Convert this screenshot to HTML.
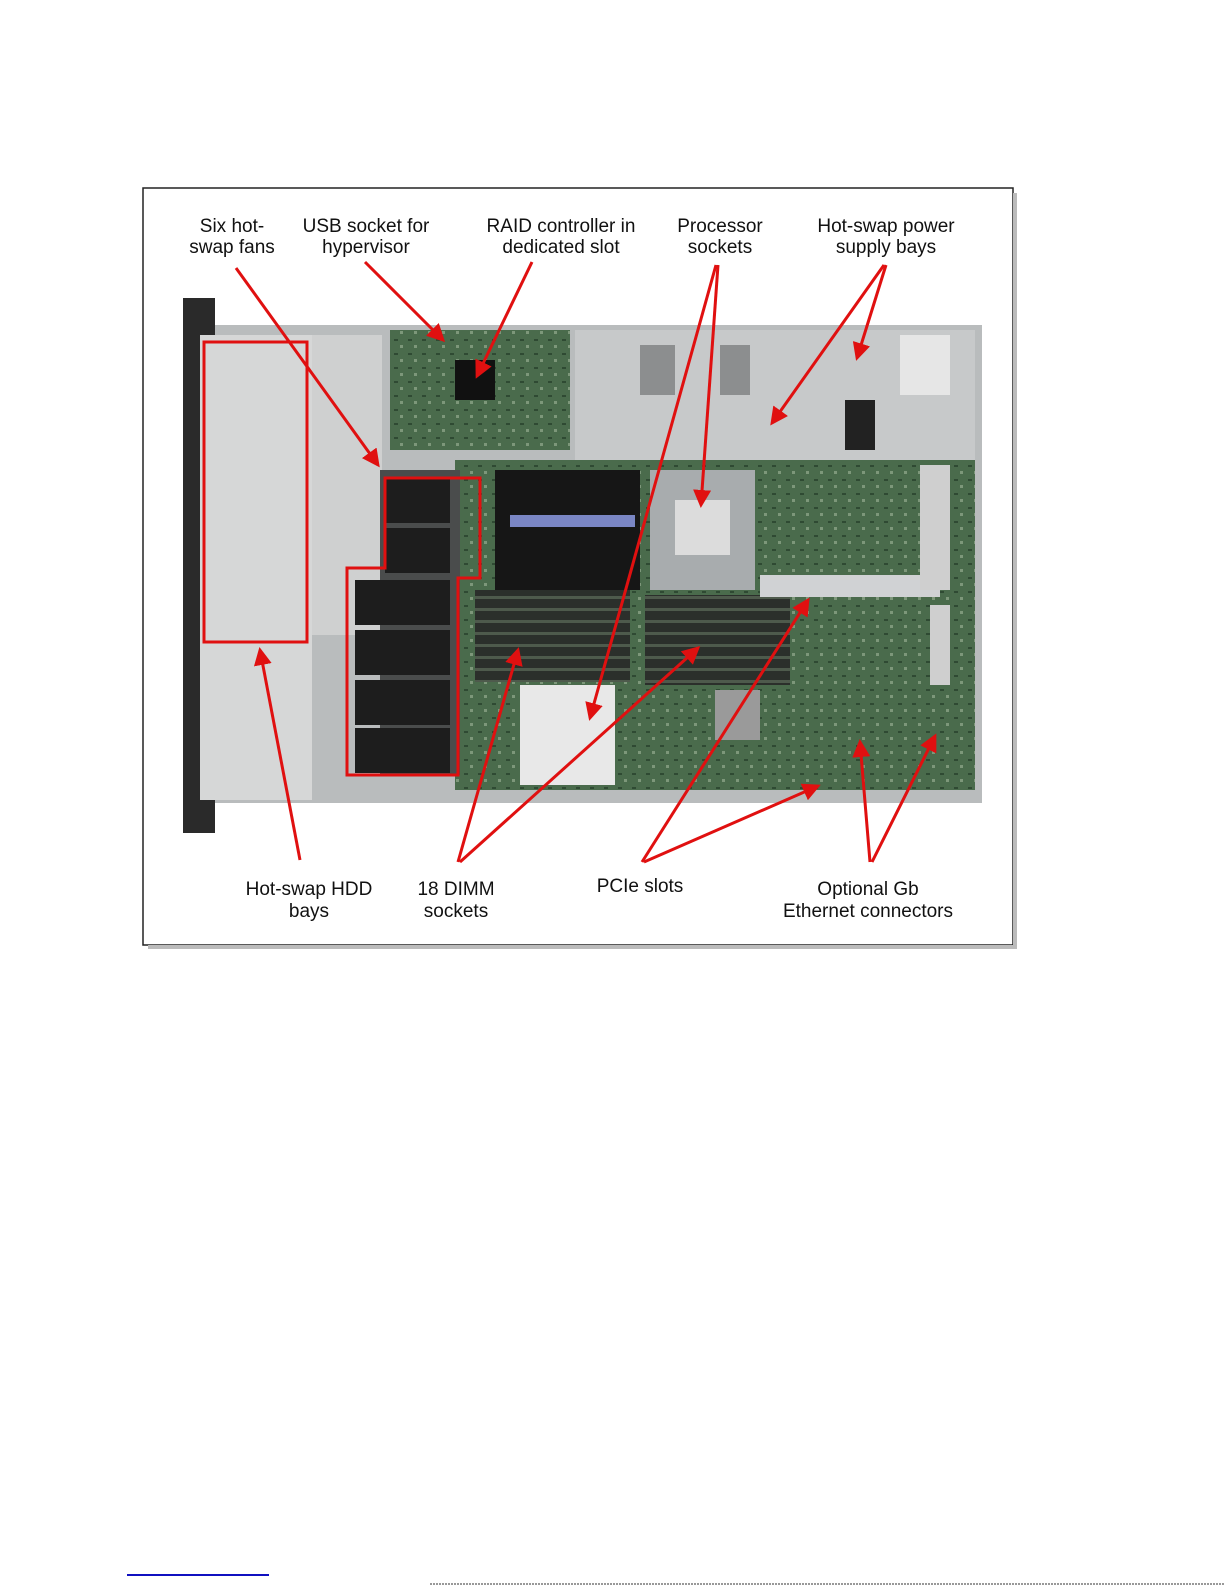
<!DOCTYPE html>
<html><head><meta charset="utf-8"><style>
html,body{margin:0;padding:0;background:#fff;}
svg{display:block}
text{font-family:"Liberation Sans",Arial,sans-serif;font-size:19px;fill:#111;text-anchor:middle}
</style></head><body>
<svg width="1225" height="1585" viewBox="0 0 1225 1585" xmlns="http://www.w3.org/2000/svg">
<defs>
<marker id="ah" markerWidth="6" markerHeight="6" refX="5" refY="3" orient="auto" markerUnits="strokeWidth"><path d="M0,0 L6,3 L0,6 z" fill="#e01010"/></marker>
<pattern id="pcb" width="14" height="14" patternUnits="userSpaceOnUse"><rect width="14" height="14" fill="#4a6b4c"/><rect x="2" y="3" width="4" height="2" fill="#2f4a33"/><rect x="8" y="9" width="3" height="3" fill="#7d977a"/></pattern>
<pattern id="dimm" width="10" height="12" patternUnits="userSpaceOnUse"><rect width="10" height="12" fill="#2b2f2b"/><rect y="8" width="10" height="3" fill="#4e5a4c"/></pattern>
</defs>
<rect x="143" y="188" width="870" height="757" fill="#fff" stroke="#222" stroke-width="1.5"/>
<rect x="1013" y="193" width="4" height="756" fill="#bbb"/>
<rect x="148" y="945" width="869" height="4" fill="#bbb"/>
<rect x="212" y="325" width="770" height="478" fill="#b9bcbd"/>
<rect x="183" y="298" width="32" height="535" fill="#2a2a2a"/>
<rect x="200" y="335" width="112" height="465" fill="#d6d7d7"/>
<rect x="312" y="335" width="70" height="300" fill="#cfd0d0"/>
<rect x="575" y="330" width="400" height="130" fill="#c7c9ca"/>
<rect x="640" y="345" width="35" height="50" fill="#8c8e8f"/>
<rect x="720" y="345" width="30" height="50" fill="#8c8e8f"/>
<rect x="845" y="400" width="30" height="50" fill="#222"/>
<rect x="900" y="335" width="50" height="60" fill="#e6e6e6"/>
<rect x="455" y="460" width="520" height="330" fill="url(#pcb)"/>
<rect x="390" y="330" width="180" height="120" fill="url(#pcb)"/>
<rect x="455" y="360" width="40" height="40" fill="#111"/>
<rect x="380" y="470" width="80" height="305" fill="#4a4c4c"/>
<g fill="#1d1d1d"><rect x="385" y="478" width="65" height="45"/><rect x="385" y="528" width="65" height="45"/><rect x="355" y="580" width="95" height="45"/><rect x="355" y="630" width="95" height="45"/><rect x="355" y="680" width="95" height="45"/><rect x="355" y="728" width="95" height="45"/></g>
<rect x="495" y="470" width="145" height="120" fill="#161616"/>
<rect x="510" y="515" width="125" height="12" fill="#7a86c4"/>
<rect x="475" y="590" width="155" height="92" fill="url(#dimm)"/>
<rect x="645" y="595" width="145" height="90" fill="url(#dimm)"/>
<rect x="650" y="470" width="105" height="120" fill="#a8acae"/>
<rect x="675" y="500" width="55" height="55" fill="#dcdcdc"/>
<rect x="520" y="685" width="95" height="100" fill="#e8e8e8"/>
<rect x="715" y="690" width="45" height="50" fill="#9a9a9a"/>
<rect x="760" y="575" width="180" height="22" fill="#d0d2d4"/>
<rect x="920" y="465" width="30" height="125" fill="#cfcfcf"/>
<rect x="930" y="605" width="20" height="80" fill="#cfcfcf"/>
<rect x="204" y="342" width="103" height="300" fill="none" stroke="#e01010" stroke-width="3"/>
<polygon points="385,478 480,478 480,578 458,578 458,775 347,775 347,568 385,568" fill="none" stroke="#e01010" stroke-width="3"/>
<g stroke="#e01010" stroke-width="3" fill="none" marker-end="url(#ah)">
<line x1="236" y1="268" x2="378" y2="465"/>
<line x1="365" y1="262" x2="443" y2="340"/>
<line x1="532" y1="262" x2="477" y2="376"/>
<line x1="718" y1="265" x2="701" y2="505"/>
<line x1="716" y1="265" x2="590" y2="718"/>
<line x1="886" y1="265" x2="857" y2="358"/>
<line x1="884" y1="265" x2="772" y2="423"/>
<line x1="300" y1="860" x2="260" y2="650"/>
<line x1="458" y1="862" x2="518" y2="650"/>
<line x1="460" y1="862" x2="698" y2="648"/>
<line x1="642" y1="862" x2="808" y2="600"/>
<line x1="644" y1="862" x2="818" y2="786"/>
<line x1="870" y1="862" x2="860" y2="742"/>
<line x1="872" y1="862" x2="935" y2="736"/>
</g>
<text x="232" y="232">Six hot-</text><text x="232" y="253">swap fans</text>
<text x="366" y="232">USB socket for</text><text x="366" y="253">hypervisor</text>
<text x="561" y="232">RAID controller in</text><text x="561" y="253">dedicated slot</text>
<text x="720" y="232">Processor</text><text x="720" y="253">sockets</text>
<text x="886" y="232">Hot-swap power</text><text x="886" y="253">supply bays</text>
<text x="309" y="895">Hot-swap HDD</text><text x="309" y="917">bays</text>
<text x="456" y="895">18 DIMM</text><text x="456" y="917">sockets</text>
<text x="640" y="892">PCIe slots</text>
<text x="868" y="895">Optional Gb</text><text x="868" y="917">Ethernet connectors</text>
<rect x="127" y="1574" width="142" height="2" fill="#1010c0"/>
<line x1="430" y1="1584" x2="1225" y2="1584" stroke="#333" stroke-width="1" stroke-dasharray="2,1"/>
</svg>
</body></html>
